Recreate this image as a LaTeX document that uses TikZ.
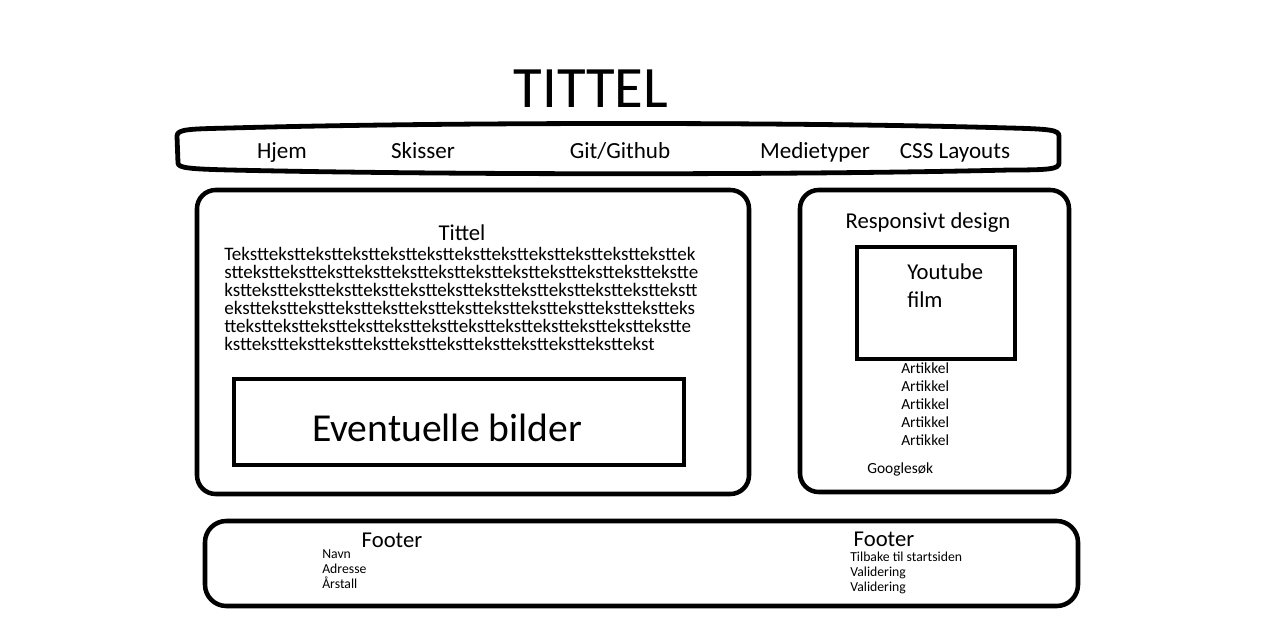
\documentclass[tikz,border=0pt]{standalone}
\usepackage{fontspec}
\setmainfont{Carlito}

\newcommand{\tekstx}[1]{\foreach\n in {1,...,#1}{tekst}}

\tikzset{
  panel/.style={line width=3.4pt, rounded corners=14pt},
  frame/.style={line width=3.6pt},
  navline/.style={line width=3.6pt, line join=round},
  bigtitle/.style={font=\fontsize{44}{50}\selectfont, inner sep=0pt},
  navtext/.style={font=\fontsize{17.3}{20}\selectfont, inner sep=0pt, anchor=base},
  head/.style={font=\fontsize{17}{20}\selectfont, inner sep=0pt},
  bodytext/.style={font=\fontsize{14.3}{17}\selectfont, inner sep=0pt, anchor=base west},
  bigtext/.style={font=\fontsize{29.7}{34}\selectfont, inner sep=0pt},
  small/.style={font=\fontsize{11.6}{14}\selectfont, inner sep=0pt, anchor=base west},
  tiny/.style={font=\fontsize{10.3}{12}\selectfont, inner sep=0pt, anchor=base west}
}

\begin{document}
\begin{tikzpicture}[x=0.75pt, y=-0.75pt]
\useasboundingbox (0,0) rectangle (1281,642);

% title
\node[bigtitle, anchor=base] (tittel) at (591,108) {TITTEL};

% menu bar
\draw[navline] (177,136) .. controls (177,129) and (190,129) .. (230,128)
  .. controls (450,122) and (800,122) .. (1010,128)
  .. controls (1050,129) and (1059,130) .. (1059,136) -- (1059,163)
  .. controls (1059,169) and (1050,170) .. (1010,170)
  .. controls (800,175) and (450,175) .. (230,170)
  .. controls (190,169) and (178,168) .. (178,163) -- cycle;
\node[navtext] (hjem) at (282,158) {Hjem};
\node[navtext] (skisser) at (423,158) {Skisser};
\node[navtext] (git) at (620,158) {Git/Github};
\node[navtext] (medie) at (815,158) {Medietyper};
\node[navtext] (css) at (955,158) {CSS Layouts};

% main column
\draw[panel] (197,190) rectangle (749,494);
\node[head, anchor=base] (maintitle) at (462,240) {Tittel};
\foreach \txt [count=\i from 0] in {Tekst\tekstx{11}tek, st\tekstx{12}te,
    kst\tekstx{12}t, ekst\tekstx{11}teks, t\tekstx{12}te, kst\tekstx{11}}
  \node[bodytext] (line\i) at (224,{260+18*\i}) {\txt};
\draw[frame] (234,379) rectangle (684,465);
\node[bigtext, anchor=base] (bilder) at (447,441) {Eventuelle bilder};

% side column
\draw[panel] (800,190) rectangle (1069,492);
\node[head, anchor=base] (resp) at (928,228) {Responsivt design};
\draw[frame] (857,247) rectangle (1015,359);
\node[head, anchor=base west] (yt1) at (907,279) {Youtube};
\node[head, anchor=base west] (yt2) at (907,307) {film};
\foreach \i in {0,...,4}
  \node[small] (art\i) at (901,{373+18*\i}) {Artikkel};
\node[small] (google) at (867,473) {Googlesøk};

% footer
\draw[panel, rounded corners=16pt] (205,521) rectangle (1078,606);
\node[head, anchor=base] (footl) at (392,547) {Footer};
\node[tiny] (navn) at (322,558) {Navn};
\node[tiny] (adr) at (322,573) {Adresse};
\node[tiny] (aar) at (322,588) {Årstall};
\node[head, anchor=base] (footr) at (884,546) {Footer};
\node[tiny] (tilbake) at (850,561) {Tilbake til startsiden};
\node[tiny] (val1) at (850,576) {Validering};
\node[tiny] (val2) at (850,591) {Validering};

\end{tikzpicture}
\end{document}
